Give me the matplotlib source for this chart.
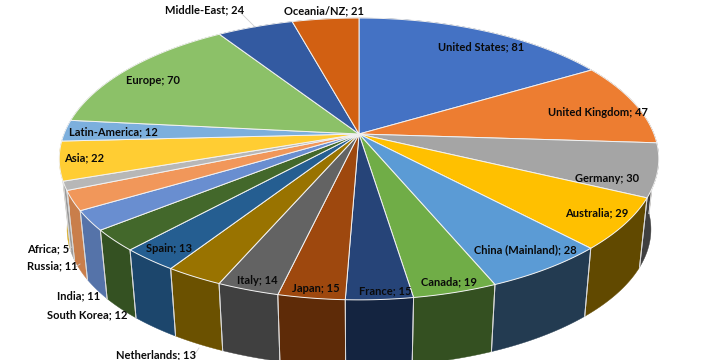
import numpy as np
import matplotlib
matplotlib.use("Agg")
import matplotlib.pyplot as plt
from matplotlib.patches import Polygon

categories = ["United States", "United Kingdom", "Germany", "Australia", "China (Mainland)",
              "Canada", "France", "Japan", "Italy", "Netherlands", "Spain", "South Korea",
              "India", "Russia", "Africa", "Asia", "Latin-America", "Europe", "Middle-East",
              "Oceania/NZ"]
values = [81, 47, 30, 29, 28, 19, 15, 15, 14, 13, 13, 12, 11, 11, 5, 22, 12, 70, 24, 21]
colors = ["#4472C4", "#ED7D31", "#A5A5A5", "#FFC000", "#5B9BD5", "#70AD47", "#264478",
          "#9E480E", "#636363", "#997300", "#255E91", "#43682B", "#698ED0", "#F1975A",
          "#B7B7B7", "#FFCD33", "#7CAFDD", "#8CC168", "#335AA1", "#D26012"]
# label centres in image pixels
label_xy = [(481, 47), (598, 113), (607, 178), (597, 213), (525, 250), (449, 282), (385, 291),
            (316, 289), (257, 280), (156, 355), (169, 249), (87, 315), (79, 296), (52, 266),
            (48, 249), (84, 158), (113, 132), (153, 80), (205, 10), (324, 11)]
leaders = [((240, 12), (255, 27)), ((193, 357), (199, 348)), ((67, 249), (72, 247)), ((74, 268), (80, 264))]

CX, CY, RX, RY, K = 359.0, 134.0, 295.0, 136.5, 0.177
DEPTH, SHRINK = 71.0, 0.974


def project(theta, r=1.0, bottom=False):
    X, Y = r * np.sin(theta), r * np.cos(theta)
    w = 1 + K * Y
    px, py = RX * X / w, -RY * Y / w
    if bottom:
        return CX + SHRINK * px, CY + DEPTH + SHRINK * py
    return CX + px, CY + py


def side_shade(theta):
    return np.clip(0.55 - 0.32 * np.sin(theta), 0.38, 0.85)


fig = plt.figure(figsize=(7.2, 3.6), dpi=100)
ax = fig.add_axes([0, 0, 1, 1])
ax.set_xlim(0, 720)
ax.set_ylim(360, 0)
ax.axis("off")

edges = np.concatenate([[0], np.cumsum(values)]) / np.sum(values) * 2 * np.pi

# sides, back to front
order = np.argsort(-np.cos((edges[:-1] + edges[1:]) / 2))
for i in order:
    a, b = edges[i], edges[i + 1]
    ts = np.linspace(a, b, 60)
    base = np.array(matplotlib.colors.to_rgb(colors[i]))
    xt, yt = project(ts)
    xb, yb = project(ts, bottom=True)
    c = base * side_shade((a + b) / 2)
    ax.add_patch(Polygon(list(zip(xt, yt)) + list(zip(xb[::-1], yb[::-1])),
                         closed=True, fc=c, ec=c, lw=0.3, zorder=2))
    for t in (a, b):
        if np.cos(t) < 0.1:
            x0, y0 = project(t)
            x1, y1 = project(t, bottom=True)
            ax.plot([x0, x1], [y0, y1], color="#d9d9d9", lw=0.7, zorder=3)

# top
for i in range(len(values)):
    ts = np.linspace(edges[i], edges[i + 1], 60)
    x, y = project(ts)
    ax.add_patch(Polygon([(CX, CY)] + list(zip(x, y)), closed=True, fc=colors[i],
                         ec="#f2f2f2", lw=0.7, zorder=4))

for (p0, p1) in leaders:
    ax.plot([p0[0], p1[0]], [p0[1], p1[1]], color="#d0d0d0", lw=0.6, zorder=5)

for name, val, (lx, ly) in zip(categories, values, label_xy):
    ax.text(lx, ly, f"{name}; {val}", ha="center", va="center", fontsize=8,
            family="Lato", fontweight="bold", color="#0a0a0a", zorder=6)

fig.savefig("out.png", dpi=100)
